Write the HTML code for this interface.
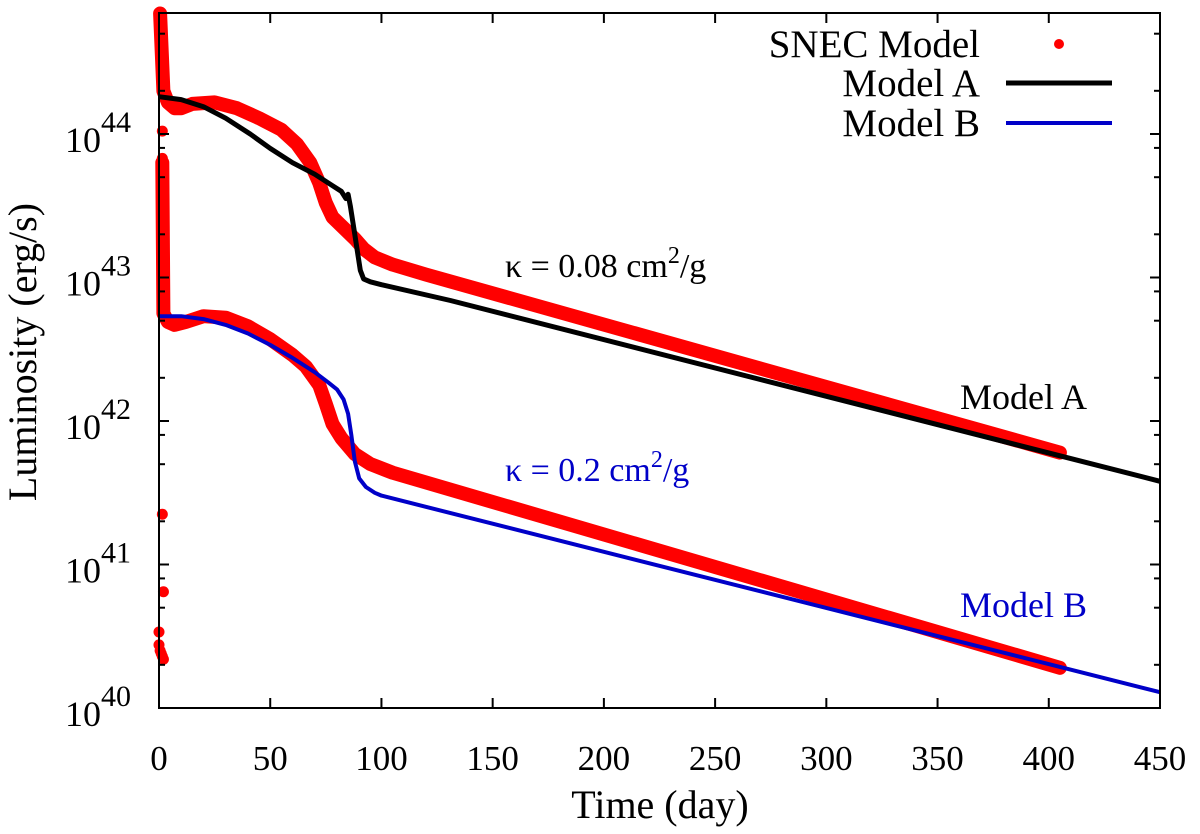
<!DOCTYPE html>
<html><head><meta charset="utf-8"><style>
body{margin:0;background:#fff}
svg{display:block;font-family:"Liberation Serif",serif}
</style></head><body>
<svg id="chart" width="1200" height="834" viewBox="0 0 1200 834" xmlns="http://www.w3.org/2000/svg">
<g id="marks"></g>
<g id="axes"></g>
<text transform="translate(36,352) rotate(-90)" text-anchor="middle" font-size="40">Luminosity (erg/s)</text>
<text x="660" y="818" text-anchor="middle" font-size="40">Time (day)</text>
<g font-size="39">
<text x="980" y="57" text-anchor="end">SNEC Model</text>
<circle cx="1059" cy="44" r="5" fill="#ff0000"/>
<text x="980" y="96" text-anchor="end">Model A</text>
<line x1="1006" y1="83" x2="1112" y2="83" stroke="#000" stroke-width="5"/>
<text x="980" y="136" text-anchor="end">Model B</text>
<line x1="1006" y1="123" x2="1112" y2="123" stroke="#0000c8" stroke-width="4"/>
</g>
<text x="505" y="277" font-size="34">κ = 0.08 cm<tspan dy="-14" font-size="24">2</tspan><tspan dy="14">/g</tspan></text>
<text x="960" y="409" font-size="36">Model A</text>
<text x="505" y="481" font-size="34" fill="#0000c8">κ = 0.2 cm<tspan dy="-14" font-size="24">2</tspan><tspan dy="14">/g</tspan></text>
<text x="960" y="617" font-size="36" fill="#0000c8">Model B</text>
</svg>
<script>
// data (time in days, log10 luminosity)
const modelA_t = [0, 10, 20, 30, 41, 50, 60, 70, 78, 82, 84, 85, 86, 88, 89.5, 90.5, 92, 95, 100, 131, 450];
const modelA_L = [44.26, 44.24, 44.19, 44.11, 44.0, 43.9, 43.8, 43.72, 43.64, 43.6, 43.55, 43.58, 43.5, 43.3, 43.15, 43.05, 42.99, 42.97, 42.95, 42.84, 41.58];
const modelB_t = [0, 10, 20, 30, 40, 50, 60, 70, 76, 80, 83, 85, 86.5, 88, 90, 93, 97, 100, 450];
const modelB_L = [42.73, 42.73, 42.71, 42.67, 42.61, 42.53, 42.44, 42.34, 42.27, 42.22, 42.15, 42.05, 41.9, 41.72, 41.6, 41.54, 41.5, 41.48, 40.11];
const snecA_t = [0.5, 2, 4, 7, 10, 15, 25, 35, 45, 55, 62, 68, 72, 75, 78, 82, 88, 92, 97, 105, 120, 405];
const snecA_L = [44.84, 44.3, 44.22, 44.18, 44.18, 44.21, 44.22, 44.18, 44.11, 44.03, 43.93, 43.8, 43.66, 43.52, 43.42, 43.36, 43.27, 43.2, 43.14, 43.09, 43.02, 41.78];
const snecB_t = [1.5, 2, 4, 7, 12, 20, 30, 40, 50, 60, 66, 72, 75, 78, 82, 88, 95, 105, 405];
const snecB_L = [43.8, 42.75, 42.69, 42.67, 42.69, 42.73, 42.72, 42.66, 42.57, 42.46, 42.38, 42.25, 42.12, 41.98, 41.88, 41.77, 41.70, 41.64, 40.28];
const snecEarly_t = [1.5, 1.5, 1.5, 1.5, 1.5, 1.5, 2, 2, 2, 2, 1.5, 2, 0, 0, 0.5, 1, 1.5, 2];
const snecEarly_L = [44.02, 43.83, 43.62, 43.5, 43.4, 43.35, 43.3, 43.2, 43.1, 42.9, 41.35, 40.81, 40.53, 40.44, 40.40, 40.38, 40.36, 40.34];
const xTicks = [0, 50, 100, 150, 200, 250, 300, 350, 400, 450];
const yTicks = [40, 41, 42, 43, 44];

const X0 = 159, X1 = 1160, Y0 = 708, Y1 = 13;
const xS = t => X0 + (t / 450) * (X1 - X0);
const yS = l => Y0 - (l - 40) * 143.5;
const NS = 'http://www.w3.org/2000/svg';
const marks = document.getElementById('marks'), axes = document.getElementById('axes');
function mk(tag, attrs, parent) { const e = document.createElementNS(NS, tag); for (const k in attrs) e.setAttribute(k, attrs[k]); parent.appendChild(e); return e; }
function pts(ts, ls) { return ts.map((t, i) => xS(t).toFixed(1) + ',' + yS(ls[i]).toFixed(1)).join(' '); }

let p = mk('polyline', {points: pts(snecA_t, snecA_L), fill: 'none', stroke: '#ff0000', 'stroke-width': 14, 'stroke-linejoin': 'round', 'stroke-linecap': 'round'}, marks);


p = mk('polyline', {points: pts(snecB_t, snecB_L), fill: 'none', stroke: '#ff0000', 'stroke-width': 14, 'stroke-linejoin': 'round', 'stroke-linecap': 'round'}, marks);


snecEarly_t.forEach((t, i) => {
  const c = mk('circle', {cx: xS(t), cy: yS(snecEarly_L[i]), r: 5.5, fill: '#ff0000'}, marks);
  
  
});
p = mk('polyline', {points: pts(modelA_t, modelA_L), fill: 'none', stroke: '#000', 'stroke-width': 5, 'stroke-linejoin': 'round'}, marks);


p = mk('polyline', {points: pts(modelB_t, modelB_L), fill: 'none', stroke: '#0000c8', 'stroke-width': 4, 'stroke-linejoin': 'round'}, marks);



const frame = mk('rect', {x: X0, y: Y1, width: X1 - X0, height: Y0 - Y1, fill: 'none', stroke: '#000', 'stroke-width': 2}, axes);


xTicks.forEach(t => {
  const x = xS(t);
  mk('line', {x1: x, y1: Y0, x2: x, y2: Y0 - 10, stroke: '#000', 'stroke-width': 2}, axes);
  mk('line', {x1: x, y1: Y1, x2: x, y2: Y1 + 10, stroke: '#000', 'stroke-width': 2}, axes);
  const tx = mk('text', {x: x, y: 770, 'text-anchor': 'middle', 'font-size': 35}, axes);
  tx.textContent = t;
  
  
});
yTicks.forEach(l => {
  const y = yS(l);
  mk('line', {x1: X0, y1: y, x2: X0 + 10, y2: y, stroke: '#000', 'stroke-width': 2}, axes);
  mk('line', {x1: X1, y1: y, x2: X1 - 10, y2: y, stroke: '#000', 'stroke-width': 2}, axes);
  [2, 5, 8].forEach(m => {
    const ym = yS(l + Math.log10(m));
    if (ym > Y1) {
      mk('line', {x1: X0, y1: ym, x2: X0 + 6, y2: ym, stroke: '#000', 'stroke-width': 2}, axes);
      mk('line', {x1: X1, y1: ym, x2: X1 - 6, y2: ym, stroke: '#000', 'stroke-width': 2}, axes);
    }
  });
  const tx = mk('text', {x: 65, y: y + 18, 'font-size': 36}, axes);
  
  
  tx.appendChild(document.createTextNode('10'));
  const sup = mk('tspan', {dy: -20, 'font-size': 30}, tx);
  sup.textContent = l;
});
</script>
</body></html>
